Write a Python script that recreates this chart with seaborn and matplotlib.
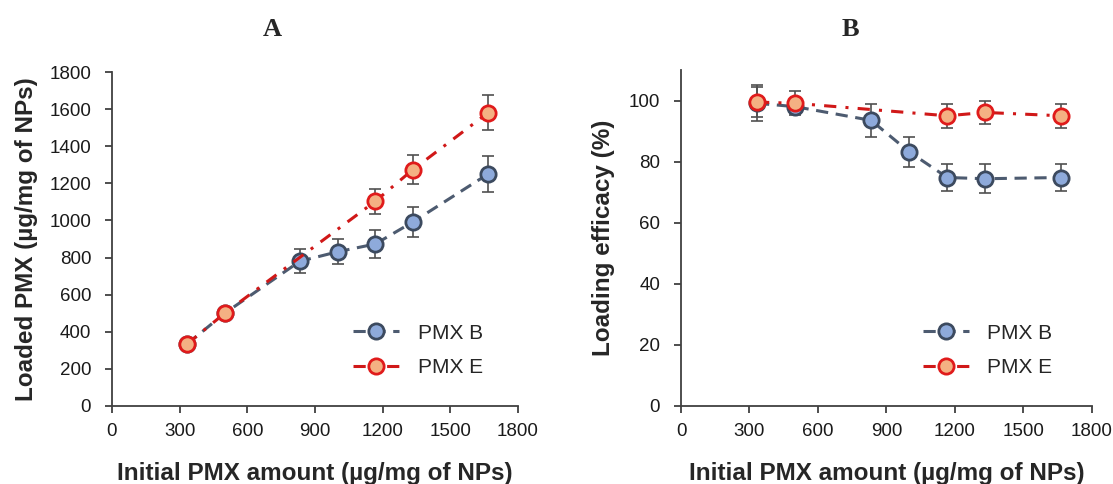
import numpy as np
import pandas as pd
import matplotlib
matplotlib.use("Agg")
import matplotlib.pyplot as plt
import seaborn as sns

# initial PMX amount (ug/mg of NPs)
x_b = [333, 500, 833, 1000, 1167, 1333, 1667]
x_e = [333, 500, 1167, 1333, 1667]

# panel A: loaded PMX
load_b = [334, 500, 780, 831, 873, 991, 1250]
load_b_err = [20, 20, 65, 67, 73, 81, 98]
load_e = [334, 500, 1103, 1273, 1580]
load_e_err = [20, 20, 69, 78, 94]

# panel B: loading efficacy (%)
eff_b = [99.1, 98.0, 93.5, 83.2, 74.8, 74.4, 74.8]
eff_b_err = [5.9, 2.0, 5.5, 4.9, 4.4, 4.7, 4.4]
eff_e = [99.5, 99.1, 95.0, 96.1, 95.0]
eff_e_err = [5.0, 3.9, 3.9, 3.9, 3.9]

sns.set_style("ticks")
plt.rcParams["font.family"] = ["Liberation Sans", "DejaVu Sans"]

fig = plt.figure(figsize=(11.13, 4.84), dpi=100)
axA = fig.add_axes([0.1006, 0.1612, 0.3648, 0.6900])
axB = fig.add_axes([0.6119, 0.1612, 0.3690, 0.6942])

blue_line = "#4d5b70"
blue_face = "#8eaadb"
blue_edge = "#3c4a5f"
red_line = "#d01818"
red_face = "#f4b183"
red_edge = "#e01b1b"
err_col = "#505050"


def draw(ax, yb, yb_err, ye, ye_err, leg_x):
    df_b = pd.DataFrame({"x": x_b, "y": yb})
    df_e = pd.DataFrame({"x": x_e, "y": ye})
    ax.errorbar(x_b, yb, yerr=yb_err, fmt="none", ecolor=err_col,
                elinewidth=1.2, capsize=4, capthick=1.2, zorder=2)
    ax.errorbar(x_e, ye, yerr=ye_err, fmt="none", ecolor=err_col,
                elinewidth=1.2, capsize=4, capthick=1.2, zorder=2)
    sns.lineplot(data=df_b, x="x", y="y", ax=ax, color=blue_line,
                 linestyle=(0, (4, 2.5)), linewidth=2.2, marker="o",
                 markersize=11, markerfacecolor=blue_face,
                 markeredgecolor=blue_edge, markeredgewidth=2,
                 label="PMX B", zorder=3)
    sns.lineplot(data=df_e, x="x", y="y", ax=ax, color=red_line,
                 linestyle=(0, (4, 3, 1, 3)), linewidth=2.2, marker="o",
                 markersize=11, markerfacecolor=red_face,
                 markeredgecolor=red_edge, markeredgewidth=2,
                 label="PMX E", zorder=4)
    ax.set_xlim(0, 1800)
    ax.set_xticks(np.arange(0, 1801, 300))
    for s in ["top", "right"]:
        ax.spines[s].set_visible(False)
    for s in ["left", "bottom"]:
        ax.spines[s].set_color("#404040")
        ax.spines[s].set_linewidth(1.3)
    ax.tick_params(axis="both", labelsize=13.5, colors="#404040",
                   labelcolor="#1a1a1a", length=5, width=1.3)
    ax.tick_params(axis="y", pad=10)
    ax.tick_params(axis="x", pad=7)
    ax.set_xlabel("Initial PMX amount (µg/mg of NPs)", fontsize=17.5,
                  fontweight="bold", labelpad=16)
    ax.legend(loc="lower right", bbox_to_anchor=(leg_x, 0.03), frameon=False,
              fontsize=15, handlelength=2.2, handletextpad=0.9,
              labelspacing=0.75)
    ax.grid(False)


draw(axA, load_b, load_b_err, load_e, load_e_err, 0.96)
axA.set_ylim(0, 1800)
axA.set_yticks(np.arange(0, 1801, 200))
axA.set_ylabel("Loaded PMX (µg/mg of NPs)", fontsize=17.5,
               fontweight="bold", labelpad=8)

draw(axB, eff_b, eff_b_err, eff_e, eff_e_err, 0.95)
axB.set_ylim(0, 110)
axB.set_yticks(np.arange(0, 101, 20))
axB.set_ylabel("Loading efficacy (%)", fontsize=17.5,
               fontweight="bold", labelpad=10)

fig.text(272 / 1113, 1 - 30 / 484, "A", fontsize=19, fontweight="bold",
         family="Liberation Serif", ha="center", va="center")
fig.text(850 / 1113, 1 - 30 / 484, "B", fontsize=19, fontweight="bold",
         family="Liberation Serif", ha="center", va="center")

fig.savefig("out.png", dpi=100)
